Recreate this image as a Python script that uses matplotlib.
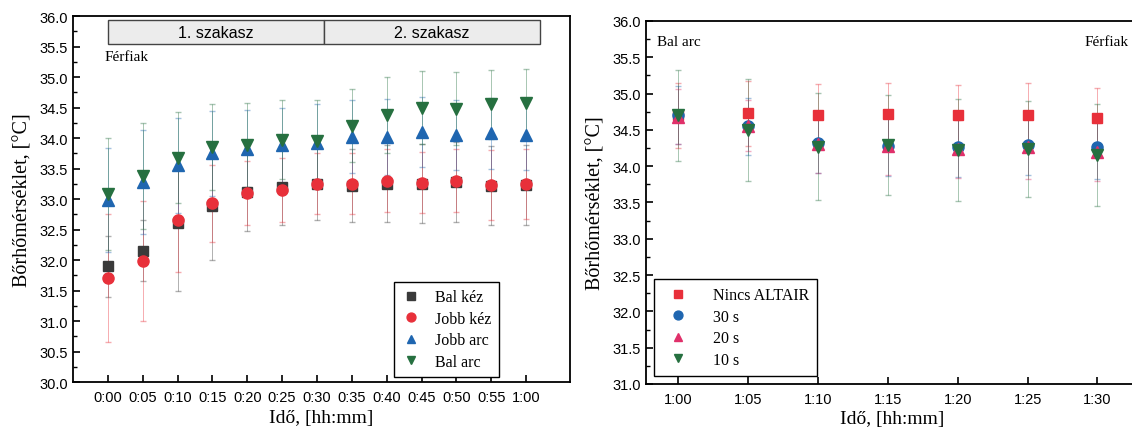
import numpy as np
import matplotlib.pyplot as plt
from matplotlib.patches import Rectangle
from matplotlib.ticker import MultipleLocator, FixedLocator

# idopontok percben
t_bal = [0, 5, 10, 15, 20, 25, 30, 35, 40, 45, 50, 55, 60]
t_jobb = [60, 65, 70, 75, 80, 85, 90]
cimkek_bal = ['0:00', '0:05', '0:10', '0:15', '0:20', '0:25', '0:30',
              '0:35', '0:40', '0:45', '0:50', '0:55', '1:00']
cimkek_jobb = ['1:00', '1:05', '1:10', '1:15', '1:20', '1:25', '1:30']

# bal oldali abra - ferfiak, 1. es 2. szakasz
bal_kez = [31.9, 32.15, 32.6, 32.88, 33.12, 33.2, 33.25, 33.22, 33.25, 33.25, 33.28, 33.22, 33.23]
bal_kez_err = [0.5, 0.5, 1.1, 0.88, 0.65, 0.62, 0.6, 0.6, 0.63, 0.65, 0.65, 0.65, 0.66]
jobb_kez = [31.7, 31.98, 32.65, 32.93, 33.1, 33.15, 33.25, 33.25, 33.3, 33.27, 33.3, 33.23, 33.25]
jobb_kez_err = [1.05, 0.98, 0.85, 0.63, 0.52, 0.52, 0.5, 0.5, 0.52, 0.5, 0.52, 0.57, 0.57]
jobb_arc = [32.98, 33.28, 33.55, 33.75, 33.82, 33.88, 33.92, 34.02, 34.02, 34.1, 34.05, 34.08, 34.05]
jobb_arc_err = [0.85, 0.85, 0.78, 0.7, 0.64, 0.62, 0.63, 0.6, 0.62, 0.57, 0.58, 0.58, 0.57]
bal_arc = [33.08, 33.38, 33.68, 33.85, 33.88, 33.97, 33.95, 34.2, 34.38, 34.5, 34.48, 34.55, 34.58]
bal_arc_err = [0.92, 0.87, 0.75, 0.7, 0.69, 0.65, 0.67, 0.6, 0.62, 0.6, 0.6, 0.57, 0.55]

# jobb oldali abra - bal arc, ALTAIR
nincs = [34.7, 34.73, 34.7, 34.72, 34.7, 34.71, 34.66]
nincs_err = [0.45, 0.45, 0.43, 0.43, 0.42, 0.44, 0.41]
s30 = [34.7, 34.55, 34.32, 34.28, 34.26, 34.29, 34.27]
s30_err = [0.4, 0.39, 0.42, 0.41, 0.41, 0.41, 0.44]
s20 = [34.68, 34.56, 34.3, 34.28, 34.24, 34.26, 34.2]
s20_err = [0.38, 0.35, 0.4, 0.4, 0.4, 0.44, 0.4]
s10 = [34.7, 34.5, 34.27, 34.29, 34.22, 34.24, 34.15]
s10_err = [0.63, 0.7, 0.74, 0.69, 0.7, 0.66, 0.7]

serif = 'Liberation Serif'
sans = 'Liberation Sans'

fig = plt.figure(figsize=(11.32, 4.35), dpi=100)
ax1 = fig.add_axes([0.0645, 0.1195, 0.4390, 0.8414])
ax2 = fig.add_axes([0.5707, 0.1150, 0.4346, 0.8345])


def sorozat(ax, x, y, e, marker, szin, nev, ms=7):
    ax.errorbar(x, y, yerr=e, fmt='none', ecolor=szin, elinewidth=0.7,
                capsize=2.5, capthick=1.0, alpha=0.4, zorder=2)
    ax.plot(x, y, linestyle='none', marker=marker, color=szin,
            markersize=ms, label=nev, zorder=3)


sorozat(ax1, t_bal, bal_kez, bal_kez_err, 's', '#3a3a3a', 'Bal kéz')
sorozat(ax1, t_bal, jobb_kez, jobb_kez_err, 'o', '#e8303a', 'Jobb kéz', 8)
sorozat(ax1, t_bal, jobb_arc, jobb_arc_err, '^', '#1f66b0', 'Jobb arc', 8)
sorozat(ax1, t_bal, bal_arc, bal_arc_err, 'v', '#267040', 'Bal arc', 8)

sorozat(ax2, t_jobb, nincs, nincs_err, 's', '#e8303a', 'Nincs ALTAIR')
sorozat(ax2, t_jobb, s30, s30_err, 'o', '#1f66b0', '30 s', 8)
sorozat(ax2, t_jobb, s20, s20_err, '^', '#e0306a', '20 s', 8)
sorozat(ax2, t_jobb, s10, s10_err, 'v', '#267040', '10 s', 8)

ax1.set_xlim(-5.0, 66.3)
ax1.set_ylim(30, 36)
ax2.set_xlim(57.7, 92.9)
ax2.set_ylim(31, 36)

ax1.xaxis.set_major_locator(FixedLocator(t_bal))
ax1.set_xticklabels(cimkek_bal)
ax2.xaxis.set_major_locator(FixedLocator(t_jobb))
ax2.set_xticklabels(cimkek_jobb)

for ax in (ax1, ax2):
    ax.yaxis.set_major_locator(MultipleLocator(0.5))
    ax.yaxis.set_minor_locator(MultipleLocator(0.25))
    ax.yaxis.set_major_formatter('{x:.1f}')
    ax.tick_params(direction='in', length=5, width=1.2, labelsize=10.5)
    ax.tick_params(which='minor', direction='in', length=3, width=1.0)
    ax.tick_params(axis='x', pad=6)
    for lab in ax.get_xticklabels() + ax.get_yticklabels():
        lab.set_fontfamily(sans)
    for sp in ax.spines.values():
        sp.set_linewidth(1.3)
    ax.set_xlabel('Idő, [hh:mm]', fontfamily=serif, fontsize=14, labelpad=3)
    ax.set_ylabel('Bőrhőmérséklet, [°C]', fontfamily=serif, fontsize=14.5, labelpad=5)

# szakasz savok
ax1.add_patch(Rectangle((0, 35.54), 31, 0.39, facecolor='#ececec',
                        edgecolor='#444444', linewidth=1.0, zorder=1))
ax1.add_patch(Rectangle((31, 35.54), 31, 0.39, facecolor='#ececec',
                        edgecolor='#444444', linewidth=1.0, zorder=1))
ax1.text(15.5, 35.735, '1. szakasz', ha='center', va='center',
         fontfamily=sans, fontsize=11.5)
ax1.text(46.5, 35.735, '2. szakasz', ha='center', va='center',
         fontfamily=sans, fontsize=11.5)
ax1.text(-0.5, 35.33, 'Férfiak', ha='left', va='center',
         fontfamily=serif, fontsize=11)

ax2.text(58.5, 35.72, 'Bal arc', ha='left', va='center',
         fontfamily=serif, fontsize=11)
ax2.text(92.2, 35.72, 'Férfiak', ha='right', va='center',
         fontfamily=serif, fontsize=11)

leg1 = ax1.legend(loc='lower right', bbox_to_anchor=(0.866, 0.0),
                  prop={'family': serif, 'size': 11.5}, fancybox=False,
                  edgecolor='black', framealpha=1, handletextpad=0.9,
                  handlelength=1.2, borderpad=0.45, labelspacing=0.35,
                  borderaxespad=0.3, markerscale=0.8)
leg1.get_frame().set_linewidth(1.0)
leg2 = ax2.legend(loc='lower left', bbox_to_anchor=(0.0, 0.0),
                  prop={'family': serif, 'size': 11.5}, fancybox=False,
                  edgecolor='black', framealpha=1, handletextpad=1.2,
                  borderpad=0.5, labelspacing=0.35, markerscale=0.8)
leg2.get_frame().set_linewidth(1.0)

plt.savefig('out.png', dpi=100)
